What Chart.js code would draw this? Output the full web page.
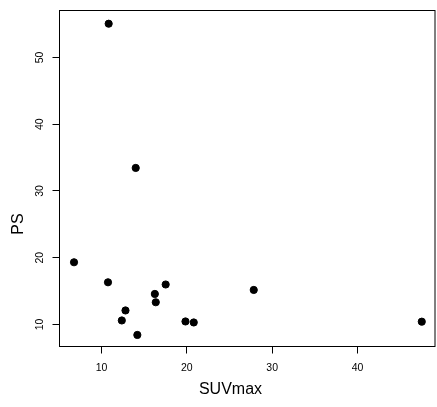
<!DOCTYPE html>
<html>
<head>
<meta charset="utf-8">
<script src="https://cdn.jsdelivr.net/npm/chart.js@4/dist/chart.umd.min.js"></script>
<style>
  html, body { margin: 0; padding: 0; background: #ffffff; }
  #wrap { width: 437px; height: 407px; }
</style>
</head>
<body>
<div id="wrap"><canvas id="plot" width="437" height="407"></canvas></div>
<script>
// Observations: SUVmax against PS
const suvMax = [10.84, 14.01, 6.78, 10.76, 12.81, 12.38, 14.20, 16.25, 16.36, 17.52, 19.84, 20.81, 27.84, 47.53];
const ps     = [55.06, 33.45, 19.32, 16.32, 12.10, 10.60, 8.43, 14.57, 13.33, 15.99, 10.45, 10.30, 15.17, 10.42];

// Axis ticks and ranges
const xTicks = [10, 20, 30, 40];
const yTicks = [10, 20, 30, 40, 50];
const xRange = [5.078, 49.08];
const yRange = [6.70, 57.04];

const xTitle = 'SUVmax';
const yTitle = 'PS';

const FONT = '"Liberation Sans", Arial, Helvetica, sans-serif';

const points = suvMax.map((x, i) => ({ x: x, y: ps[i] }));

// Frame around the plotting region plus the axis titles
const framePlugin = {
  id: 'frame',
  afterDraw(chart) {
    const { ctx, chartArea: a } = chart;
    ctx.save();
    ctx.strokeStyle = '#000000';
    ctx.lineWidth = 1;
    ctx.strokeRect(a.left, a.top, a.right - a.left, a.bottom - a.top);

    ctx.fillStyle = '#000000';
    ctx.font = '16px ' + FONT;
    ctx.textAlign = 'center';
    ctx.textBaseline = 'alphabetic';
    ctx.fillText(xTitle, 230.5, 394);

    ctx.translate(23.3, 224);
    ctx.rotate(-Math.PI / 2);
    ctx.fillText(yTitle, 0, 0);
    ctx.restore();
  }
};

// Fixed axis sizes, no extra label overhang padding
function fixSize(prop, value) {
  return function (scale) {
    scale[prop] = value;
    scale.paddingLeft = 0;
    scale.paddingRight = 0;
    scale.paddingTop = 0;
    scale.paddingBottom = 0;
  };
}

const tickStyle = {
  display: true,
  drawOnChartArea: false,
  drawTicks: true,
  tickLength: 7,
  color: '#000000',
  lineWidth: 1
};

new Chart(document.getElementById('plot'), {
  type: 'scatter',
  data: {
    datasets: [{
      data: points,
      backgroundColor: '#000000',
      borderColor: '#000000',
      borderWidth: 1,
      pointRadius: 3.6,
      pointHoverRadius: 3.6
    }]
  },
  options: {
    responsive: false,
    animation: false,
    events: [],
    layout: { autoPadding: false, padding: { top: 10.5, right: 2, left: 0, bottom: 0 } },
    plugins: {
      legend: { display: false },
      tooltip: { enabled: false }
    },
    scales: {
      x: {
        type: 'linear',
        position: 'bottom',
        min: xRange[0],
        max: xRange[1],
        afterBuildTicks(scale) { scale.ticks = xTicks.map(v => ({ value: v })); },
        afterFit: fixSize('height', 60.5),
        grid: tickStyle,
        border: { display: false },
        ticks: {
          color: '#000000',
          padding: 8,
          maxRotation: 0,
          minRotation: 0,
          font: { family: FONT, size: 10.5 }
        }
      },
      y: {
        type: 'linear',
        position: 'left',
        min: yRange[0],
        max: yRange[1],
        afterBuildTicks(scale) { scale.ticks = yTicks.map(v => ({ value: v })); },
        afterFit: fixSize('width', 59.5),
        grid: tickStyle,
        border: { display: false },
        ticks: {
          color: '#000000',
          padding: 6.5,
          minRotation: 90,
          maxRotation: 90,
          crossAlign: 'center',
          font: { family: FONT, size: 10.5 }
        }
      }
    }
  },
  plugins: [framePlugin]
});
</script>
</body>
</html>
